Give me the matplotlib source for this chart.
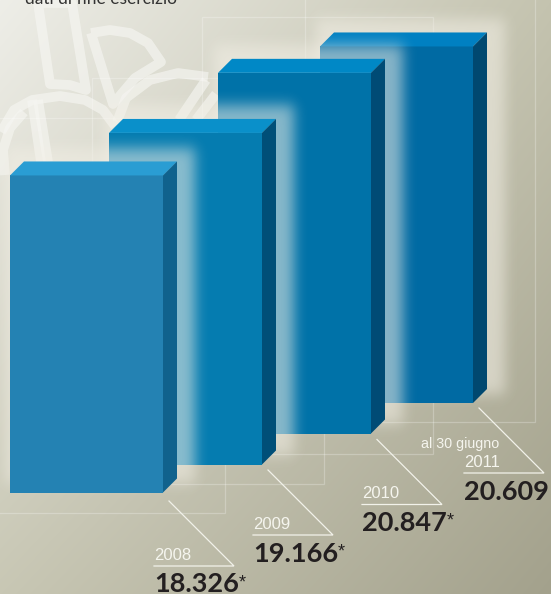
import numpy as np
import matplotlib
matplotlib.use("Agg")
import matplotlib.pyplot as plt
from matplotlib.patches import Polygon, Rectangle

years = ["2008", "2009", "2010", "2011"]
values = [18326, 19166, 20847, 20609]
value_labels = ["18.326", "19.166", "20.847", "20.609"]
starred = [True, True, True, False]

# layout in pixels
W, H = 551, 594
PX_PER_UNIT = 0.0173
bar_left = [10, 109, 218, 320]
bar_width = 153
baseline = [492.5, 464.5, 433.5, 403]
depth = 14
front_cols = ["#2482b3", "#057cb0", "#0072a8", "#006aa3"]
top_cols = ["#2a9dd3", "#0a90ca", "#0088c6", "#0080c2"]
side_cols = ["#10628d", "#004f78", "#004b75", "#004870"]

label_x = [154, 253, 362, 464]
rule_y = [566, 535, 504.5, 473]
rule_len = 80


def soft_edge(n, a, b, sigma):
    # rectangle profile smoothed with a gaussian
    xs = np.arange(n)
    prof = ((xs >= a) & (xs <= b)).astype(float)
    k = np.arange(-int(4 * sigma), int(4 * sigma) + 1)
    g = np.exp(-k**2 / (2 * sigma**2))
    g /= g.sum()
    pad = len(k)
    return np.convolve(np.pad(prof, pad, mode="edge"), g, mode="same")[pad:-pad]


fig = plt.figure(figsize=(W / 100, H / 100), dpi=100)
ax = fig.add_axes([0, 0, 1, 1])
ax.set_xlim(0, W)
ax.set_ylim(H, 0)
ax.axis("off")

# background gradient, light at top left and olive at bottom right
yy, xx = np.mgrid[0:H, 0:W]
u = xx / W
v = yy / H
corner_tl = np.array([238, 238, 232])
corner_tr = np.array([196, 195, 175])
corner_bl = np.array([200, 199, 180])
corner_br = np.array([163, 161, 140])
bg = (
    ((1 - u) * (1 - v))[..., None] * corner_tl
    + (u * (1 - v))[..., None] * corner_tr
    + ((1 - u) * v)[..., None] * corner_bl
    + (u * v)[..., None] * corner_br
) / 255
ax.imshow(bg, extent=(0, W, H, 0), aspect="auto", zorder=0)

# pale logo strokes
logo = [
    [(38, 3), (50, 84), (70, 85), (86, 90), (72, 3), (38, 3)],
    [(91, 33), (110, 30), (130, 33), (148, 43), (161, 62), (135, 78), (113, 104), (91, 33)],
    [(117, 122), (126, 98), (150, 80), (178, 73), (208, 77)],
    [(206, 80), (179, 120)],
    [(216, 94), (196, 120)],
    [(1, 132), (14, 110), (32, 100), (60, 96), (85, 100), (103, 110), (115, 126)],
    [(32, 100), (41, 162)],
    [(5, 175), (3, 150), (10, 128), (24, 112)],
    [(38, 100), (48, 162)],
]
for stroke in logo:
    xs, ys = zip(*stroke)
    ax.plot(xs, ys, color="#f6f6f2", alpha=0.65, lw=7, solid_joinstyle="round",
            solid_capstyle="butt", zorder=1)

# thin frames behind the bars
frames = [(-5, 118, 225, 513), (92, 78, 324, 484), (202, 17, 433, 454), (305, -5, 535, 422)]
for x0, y0, x1, y1 in frames:
    ax.add_patch(Rectangle((x0, y0), x1 - x0, y1 - y0, fill=False,
                           ec="white", alpha=0.25, lw=0.9, zorder=1))

z = 2
for i in range(3, -1, -1):
    h = values[i] * PX_PER_UNIT
    x0 = bar_left[i]
    x1 = x0 + bar_width
    y1 = baseline[i]
    y0 = y1 - h

    # halo around the block, also falling on the block behind it
    gx = soft_edge(W, x0 - 4, x1 + depth + 17, 6.5)
    gy = soft_edge(H, y0 - depth - 14, y1 - depth + 4, 7)
    halo = np.zeros((H, W, 4))
    halo[..., 0] = 0.95
    halo[..., 1] = 0.94
    halo[..., 2] = 0.90
    halo[..., 3] = 0.56 * np.outer(gy, gx)
    ax.imshow(halo, extent=(0, W, H, 0), aspect="auto", zorder=z)

    ax.bar(x0, -h, width=bar_width, bottom=y1, align="edge",
           color=front_cols[i], zorder=z + 1)
    ax.add_patch(Polygon([(x0, y0), (x0 + depth, y0 - depth),
                          (x1 + depth, y0 - depth), (x1, y0)],
                         fc=top_cols[i], ec="none", zorder=z + 1))
    ax.add_patch(Polygon([(x1, y0), (x1 + depth, y0 - depth),
                          (x1 + depth, y1 - depth), (x1, y1)],
                         fc=side_cols[i], ec="none", zorder=z + 1))
    z += 2

ax.set_xlim(0, W)
ax.set_ylim(H, 0)

sans = ["Liberation Sans", "DejaVu Sans"]
bold = ["Lato", "Liberation Sans", "DejaVu Sans"]
for i in range(4):
    lx = label_x[i]
    ry = rule_y[i]
    ax.plot([lx, lx + rule_len, lx + 15], [ry, ry, ry - 65], color="#f2f2ea",
            lw=0.9, zorder=20, solid_joinstyle="miter")
    ax.text(lx, ry - 6, years[i], color="#f5f5ee", fontsize=12, family=sans,
            va="baseline", ha="left", zorder=21)
    ax.text(lx, ry + 26.5, value_labels[i], color="#231f20", fontsize=19.5,
            family=bold, weight="bold", va="baseline", ha="left", zorder=21)
    if starred[i]:
        ax.text(lx + 85, ry + 21, "*", color="#231f20", fontsize=13,
                family=sans, va="baseline", ha="left", zorder=21)

ax.text(421, 448, "al 30 giugno", color="#f5f5ee", fontsize=10.3, family=sans,
        va="baseline", ha="left", zorder=21)
ax.text(25, 3.5, "dati di fine esercizio", color="#333333", fontsize=12.5,
        family=["Lato", "DejaVu Sans"], va="baseline", ha="left", zorder=21)

fig.savefig("out.png", dpi=100)
